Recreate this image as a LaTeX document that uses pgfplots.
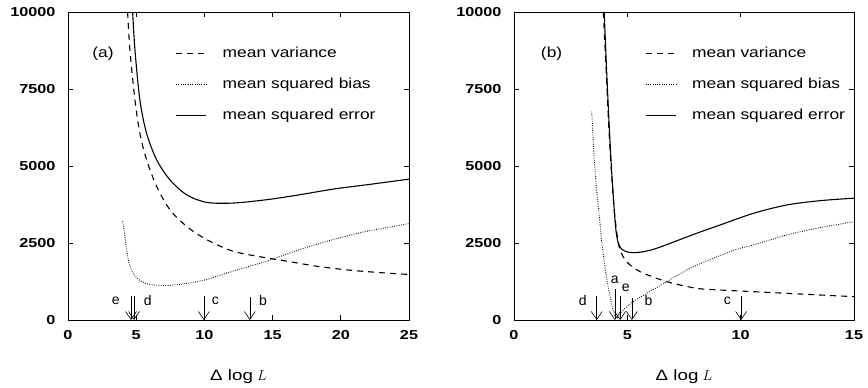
\documentclass[border=0pt]{standalone}
\usepackage{fontspec}
\setmainfont{Liberation Sans}
\usepackage{graphicx}
\usepackage{pgfplots}
\pgfplotsset{compat=1.18}
\usetikzlibrary{arrows.meta}
\newcommand\wide[1]{\scalebox{1.25}[1]{#1}}
\newcommand\lwide[1]{\scalebox{1.2}[1]{#1}}
\tikzset{lab/.style={font=\fontsize{14}{16}\selectfont}}
\pgfplotsset{
  myax/.style={
    scale only axis, height=308pt,
    ymin=0, ymax=10000, ytick={0,2500,5000,7500,10000},
    scaled y ticks=false, scaled x ticks=false,
    /pgf/number format/assume math mode=true,
    tick align=inside, major tick length=5pt,
    axis line style={line width=0.9pt},
    every tick/.style={black, line width=0.7pt},
    yticklabel={\wide{\textbf{\pgfmathprintnumber[fixed,1000 sep={},assume math mode=true]{\tick}}}},
    xticklabel={\wide{\textbf{\pgfmathprintnumber[assume math mode=true]{\tick}}}},
    ticklabel style={font=\fontsize{13}{15}\selectfont},
    yticklabel style={xshift=-9pt},
    xticklabel style={yshift=-7pt},
    xlabel={\fontsize{15}{18}\selectfont\wide{Δ log} $L$},
    xlabel style={at={(axis description cs:0.5,-0.185)}, anchor=center},
    legend cell align=left,
    legend image code/.code={\draw[#1] (0pt,0pt) -- (30pt,0pt);},
    legend style={draw=none, fill=none, inner sep=0pt,
      font=\fontsize{14.5}{16}\selectfont, row sep=17pt,
      nodes={inner sep=1pt},
      /tikz/every odd column/.append style={column sep=15pt}},
  },
  var/.style={black, line width=1.1pt, dash pattern=on 6pt off 5pt, smooth},
  bias/.style={black, line width=0.9pt, dash pattern=on 0.8pt off 1.5pt, smooth},
  mse/.style={black, line width=1.1pt, smooth},
  arr/.style={black, line width=0.6pt, -{Straight Barb[length=8pt,width=11pt]}},
}
\begin{document}
\begin{tikzpicture}[x=1pt,y=1pt]
\useasboundingbox (0,0) rectangle (868,388);
% ---------------- panel (a)
\begin{axis}[myax, at={(68pt,68pt)}, anchor=south west, width=341pt,
  xmin=0, xmax=25, xtick={0,5,10,15,20,25},
  legend style={at={(axis description cs:0.315,0.89)}, anchor=north west}]
\addplot[var] coordinates {(4.37,10000) (4.54,8760) (4.91,7141) (5.27,6063) (5.76,5200) (6.5,4337) (7.47,3581) (8.69,3042) (10.16,2611) (12.1,2233) (14.55,2017) (15.78,1931) (18.2,1748) (20.66,1618) (23.1,1532) (25,1478)};
\addlegendentry{\lwide{mean variance}}
\addplot[bias] coordinates {(4.0,3204) (4.1,2934) (4.3,2287) (4.54,1748) (5.03,1370) (5.76,1176) (6.74,1122) (7.72,1133) (8.69,1187) (10.16,1316) (12.1,1586) (14.55,1909) (17.0,2287) (19.44,2611) (21.9,2880) (25,3128)};
\addlegendentry{\lwide{mean squared bias}}
\addplot[mse] coordinates {(4.74,10000) (4.91,8760) (5.27,7141) (5.76,6063) (6.5,5200) (7.47,4552) (8.69,4067) (10.16,3819) (12.1,3797) (14.55,3905) (17.0,4067) (19.44,4250) (21.9,4390) (25,4574)};
\addlegendentry{\lwide{mean squared error}}
\addplot[arr, forget plot] coordinates {(4.62,780) (4.62,0)};
\addplot[arr, forget plot] coordinates {(4.84,780) (4.84,0)};
\addplot[arr, forget plot] coordinates {(9.96,780) (9.96,0)};
\addplot[arr, forget plot] coordinates {(13.33,740) (13.33,0)};
\node[lab] at (axis cs:3.5,630) {e};
\node[lab] at (axis cs:5.85,630) {d};
\node[lab] at (axis cs:10.8,630) {c};
\node[lab] at (axis cs:14.3,630) {b};
\node[font=\fontsize{14.5}{16}\selectfont] at (axis cs:2.56,8640) {\lwide{(a)}};
\end{axis}
% ---------------- panel (b)
\begin{axis}[myax, at={(514pt,68pt)}, anchor=south west, width=340pt,
  xmin=0, xmax=15, xtick={0,5,10,15},
  legend style={at={(axis description cs:0.385,0.89)}, anchor=north west}]
\addplot[var] coordinates {(3.94,10000) (4.06,8200) (4.18,6300) (4.3,4800) (4.42,3600) (4.55,2750) (4.68,2273) (4.97,1894) (5.56,1569) (6.74,1245) (8.06,1028) (9.09,974) (9.67,952) (12.03,866) (15,757)};
\addlegendentry{\lwide{mean variance}}
\addplot[bias] coordinates {(3.43,6764) (3.52,5500) (3.62,4400) (3.72,3700) (3.85,2700) (3.98,1900) (4.1,1300) (4.23,800) (4.38,300) (4.5,70) (4.62,120) (4.82,325) (5.26,595) (5.85,866) (6.74,1245) (7.76,1677) (8.79,2003) (9.82,2295) (10.56,2435) (12.03,2760) (13.5,2998) (15,3192)};
\addlegendentry{\lwide{mean squared bias}}
\addplot[mse] coordinates {(3.98,10000) (4.08,8200) (4.2,6300) (4.31,4800) (4.42,3600) (4.5,2900) (4.6,2500) (4.75,2300) (5.0,2210) (5.34,2186) (5.8,2230) (6.3,2330) (7.0,2520) (8.0,2800) (9.09,3084) (10.56,3463) (12.03,3734) (13.5,3874) (15,3955)};
\addlegendentry{\lwide{mean squared error}}
\addplot[arr, forget plot] coordinates {(3.65,780) (3.65,0)};
\addplot[arr, forget plot] coordinates {(4.45,1010) (4.45,0)};
\addplot[arr, forget plot] coordinates {(4.68,780) (4.68,0)};
\addplot[arr, forget plot] coordinates {(5.2,720) (5.2,0)};
\addplot[arr, forget plot] coordinates {(10.02,780) (10.02,0)};
\node[lab] at (axis cs:3.03,630) {d};
\node[lab] at (axis cs:4.44,1320) {a};
\node[lab] at (axis cs:4.93,1050) {e};
\node[lab] at (axis cs:5.93,630) {b};
\node[lab] at (axis cs:9.41,630) {c};
\node[font=\fontsize{14.5}{16}\selectfont] at (axis cs:1.66,8640) {\lwide{(b)}};
\end{axis}
\end{tikzpicture}
\end{document}
